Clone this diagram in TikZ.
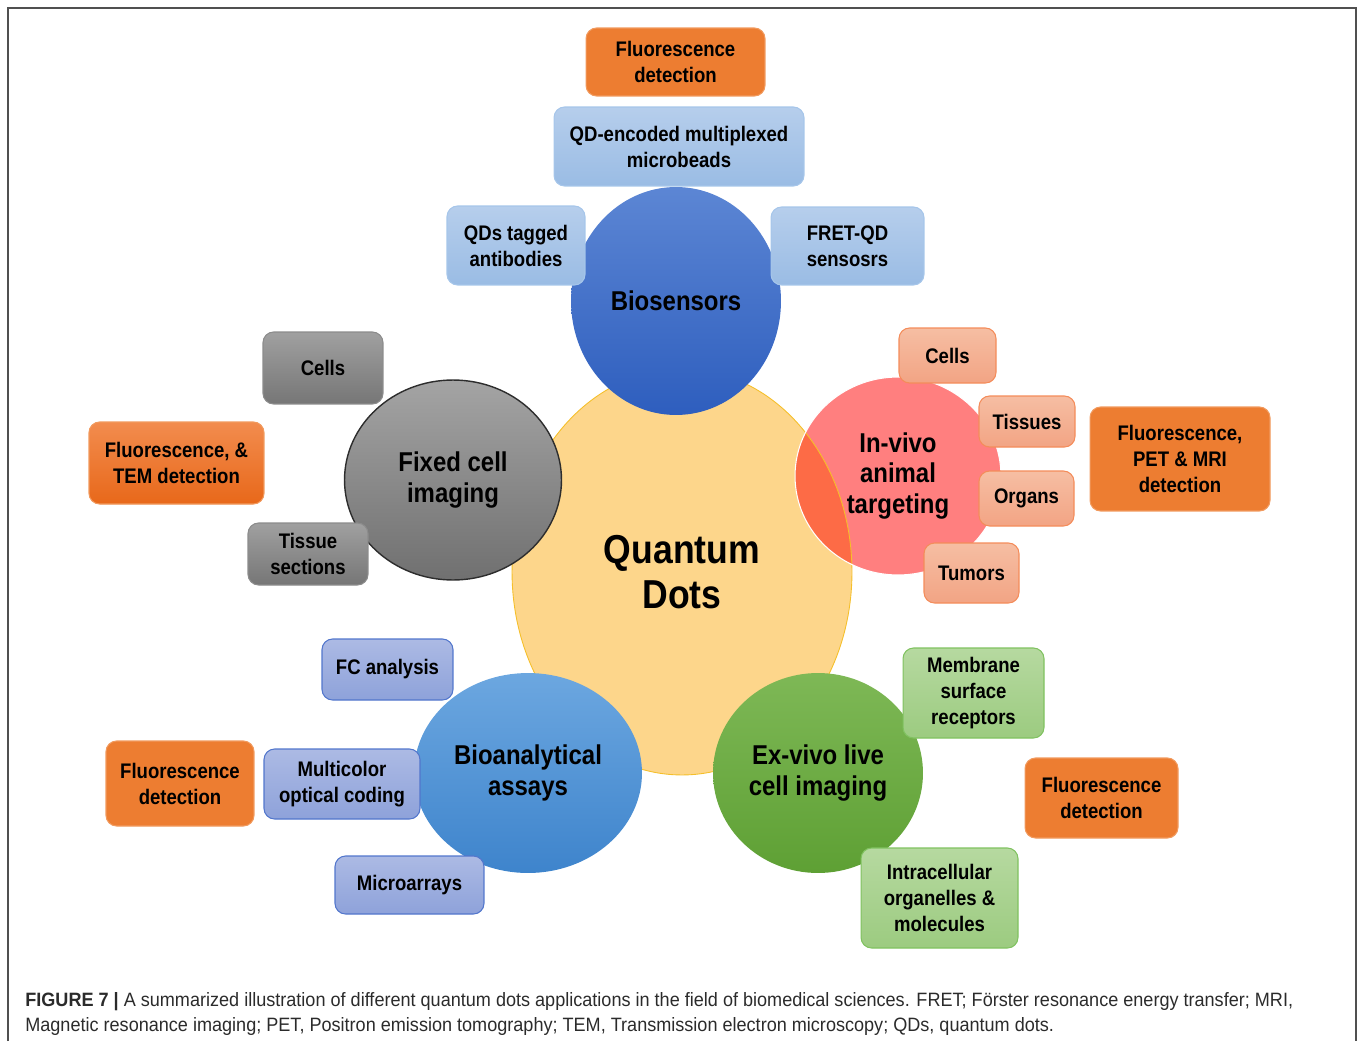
\documentclass[tikz,border=0pt]{standalone}
\usepackage{fontspec}
\setmainfont{Liberation Sans}
\newfontfamily\lblfont[FakeStretch=0.88]{Liberation Sans}
\newfontfamily\capfont[FakeStretch=0.935]{Liberation Sans}
\usetikzlibrary{shapes.geometric}

\definecolor{frameline}{HTML}{505050}
\definecolor{qdyellow}{HTML}{FDD68B}
\definecolor{qdedge}{HTML}{F5BF2A}
\definecolor{vivored}{HTML}{FF7F7F}
\definecolor{mixred}{HTML}{FD6B46}
\definecolor{biotop}{HTML}{5C86D4}
\definecolor{biobot}{HTML}{2E5EBE}
\definecolor{fixtop}{HTML}{A4A4A4}
\definecolor{fixbot}{HTML}{707070}
\definecolor{fixedge}{HTML}{2D2D2D}
\definecolor{assaytop}{HTML}{6CA7E0}
\definecolor{assaybot}{HTML}{3E84CC}
\definecolor{extop}{HTML}{7EB856}
\definecolor{exbot}{HTML}{5EA034}
\definecolor{detorange}{HTML}{ED7D31}
\definecolor{detedge}{HTML}{F19A5E}
\definecolor{temtop}{HTML}{F28C4E}
\definecolor{tembot}{HTML}{E8681A}
\definecolor{bioltop}{HTML}{B6CEEC}
\definecolor{biolbot}{HTML}{9ABCE4}
\definecolor{bioledge}{HTML}{A6C6EA}
\definecolor{fixltop}{HTML}{A0A0A0}
\definecolor{fixlbot}{HTML}{767676}
\definecolor{fixledge}{HTML}{8C8C8C}
\definecolor{vivoltop}{HTML}{F6BEA3}
\definecolor{vivolbot}{HTML}{F2A484}
\definecolor{vivoledge}{HTML}{F48C5A}
\definecolor{assayltop}{HTML}{ACBAE4}
\definecolor{assaylbot}{HTML}{8EA2DA}
\definecolor{assayledge}{HTML}{5276CC}
\definecolor{exltop}{HTML}{B6D9A0}
\definecolor{exlbot}{HTML}{9CCB80}
\definecolor{exledge}{HTML}{80C260}
\definecolor{captext}{HTML}{2B2B2B}

\begin{document}
\begin{tikzpicture}[x=0.02cm, y=-0.02cm,
  hub/.style={ellipse, inner sep=0pt, align=center, text=black, font=\lblfont\bfseries\fontsize{15.5}{17.5}\selectfont},
  leaf/.style={draw, rounded corners=6pt, align=center, inner sep=2pt, line width=0.6pt, text=black, font=\lblfont\bfseries\fontsize{12}{14.8}\selectfont},
  detect/.style={leaf, fill=detorange, draw=detedge},
  bioleaf/.style={leaf, top color=bioltop, bottom color=biolbot, draw=bioledge},
  fixleaf/.style={leaf, top color=fixltop, bottom color=fixlbot, draw=fixledge},
  vivoleaf/.style={leaf, top color=vivoltop, bottom color=vivolbot, draw=vivoledge},
  assayleaf/.style={leaf, top color=assayltop, bottom color=assaylbot, draw=assayledge},
  exleaf/.style={leaf, top color=exltop, bottom color=exlbot, draw=exledge},
  caption/.style={anchor=base west, inner sep=0pt, text=captext, font=\capfont\fontsize{11}{13}\selectfont}
]
\useasboundingbox (0,0) rectangle (1358,1041);
\draw[line width=0.8pt, frameline] (8,1041) -- (8,8) -- (1356,8) -- (1356,1041);

% centre
\node[hub, fill=qdyellow, draw=qdedge, line width=0.5pt, minimum width=6.8cm, minimum height=8.12cm,
  font=\lblfont\bfseries\fontsize{23}{25.5}\selectfont] (qd) at (682,572) {Quantum\\Dots};

% hubs
\node[hub, top color=biotop, bottom color=biobot, minimum width=4.2cm, minimum height=4.56cm] (bio) at (676,301) {Biosensors};
\node[hub, top color=fixtop, bottom color=fixbot, draw=fixedge, line width=0.8pt,
  minimum width=4.34cm, minimum height=4.0cm] (fix) at (453,480) {Fixed cell\\imaging};
\node[hub, fill=vivored, draw=white, line width=0.6pt, minimum width=4.12cm, minimum height=3.96cm,
  path picture={
    \fill[mixred] (qd.center) ellipse [x radius=3.4cm, y radius=4.06cm];
    \draw[qdedge, line width=0.5pt] (qd.center) ellipse [x radius=3.4cm, y radius=4.06cm];
  }] (vivo) at (898,476) {In-vivo\\animal\\targeting};
\node[hub, top color=assaytop, bottom color=assaybot, minimum width=4.56cm, minimum height=4.0cm] (assay) at (528,773) {Bioanalytical\\assays};
\node[hub, top color=extop, bottom color=exbot, minimum width=4.2cm, minimum height=4.0cm] (exvivo) at (818,773) {Ex-vivo live\\cell imaging};

% biosensors
\node[detect, minimum width=3.58cm, minimum height=1.36cm] (fdtop) at (675.5,62) {Fluorescence\\detection};
\node[bioleaf, minimum width=5.0cm, minimum height=1.58cm] (beads) at (679,146.5) {QD-encoded multiplexed\\microbeads};
\node[bioleaf, minimum width=2.76cm, minimum height=1.58cm] (antib) at (516,245.5) {QDs tagged\\antibodies};
\node[bioleaf, minimum width=3.06cm, minimum height=1.56cm] (fret) at (847.5,246) {FRET-QD\\sensosrs};

% fixed cell imaging
\node[fixleaf, minimum width=2.4cm, minimum height=1.44cm] (fcells) at (323,368) {Cells};
\node[detect, top color=temtop, bottom color=tembot, minimum width=3.5cm, minimum height=1.64cm] (fdtem) at (176.5,463) {Fluorescence, \&\\TEM detection};
\node[fixleaf, minimum width=2.4cm, minimum height=1.24cm] (tissec) at (308,554) {Tissue\\sections};

% in-vivo animal targeting
\node[vivoleaf, minimum width=1.94cm, minimum height=1.1cm] (vcells) at (947.5,355.5) {Cells};
\node[vivoleaf, minimum width=1.92cm, minimum height=1.02cm] (tissues) at (1027,421.5) {Tissues};
\node[vivoleaf, minimum width=1.9cm, minimum height=1.1cm] (organs) at (1026.5,498.5) {Organs};
\node[vivoleaf, minimum width=1.9cm, minimum height=1.2cm] (tumors) at (971.5,573) {Tumors};
\node[detect, minimum width=3.6cm, minimum height=2.08cm] (fdpet) at (1180,459) {Fluorescence,\\PET \& MRI\\detection};

% bioanalytical assays
\node[assayleaf, minimum width=2.62cm, minimum height=1.22cm] (fcan) at (387.5,669.5) {FC analysis};
\node[assayleaf, minimum width=3.12cm, minimum height=1.4cm] (multic) at (342,784) {Multicolor\\optical coding};
\node[detect, minimum width=2.96cm, minimum height=1.7cm] (fdassay) at (180,783.5) {Fluorescence\\detection};
\node[assayleaf, minimum width=2.98cm, minimum height=1.16cm] (microarr) at (409.5,885) {Microarrays};

% ex-vivo live cell imaging
\node[exleaf, minimum width=2.82cm, minimum height=1.8cm] (membr) at (973.5,693) {Membrane\\surface\\receptors};
\node[detect, minimum width=3.06cm, minimum height=1.6cm] (fdex) at (1101.5,798) {Fluorescence\\detection};
\node[exleaf, minimum width=3.14cm, minimum height=2.0cm] (intra) at (939.5,898) {Intracellular\\organelles \&\\molecules};

% caption
\node[caption] (capa) at (25,1006) {\textbf{FIGURE 7 |} A summarized illustration of different quantum dots applications in the field of biomedical sciences. FRET; F\"orster resonance energy transfer; MRI,};
\node[caption] (capb) at (25,1031) {Magnetic resonance imaging; PET, Positron emission tomography; TEM, Transmission electron microscopy; QDs, quantum dots.};
\end{tikzpicture}
\end{document}
